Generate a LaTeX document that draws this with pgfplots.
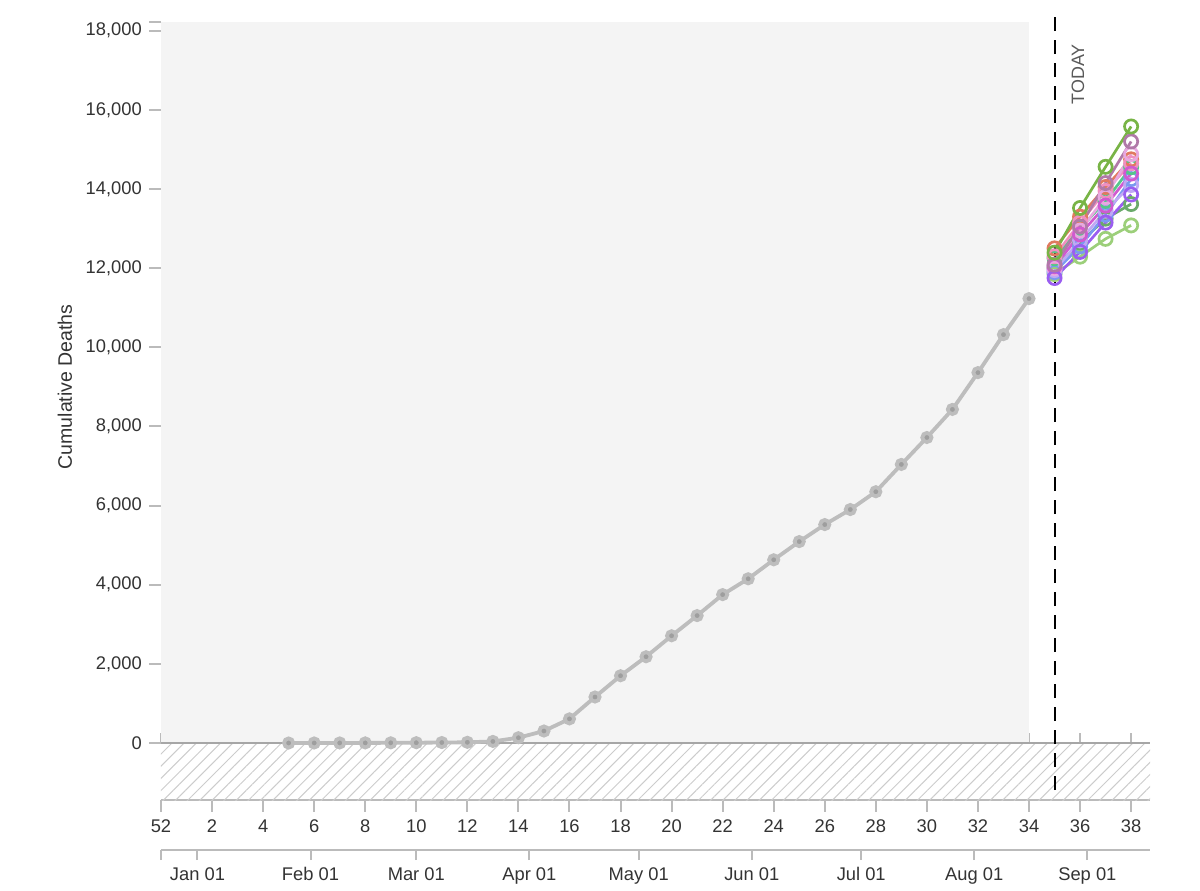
\documentclass[border=0pt]{standalone}
\usepackage{pgfplots}
\pgfplotsset{compat=1.18}
\usepackage{fontspec}
\setmainfont{Liberation Sans}
\usetikzlibrary{patterns.meta}
\definecolor{txt}{HTML}{333333}
\definecolor{tickc}{HTML}{BBBBBB}
\definecolor{shadec}{HTML}{F4F4F4}
\definecolor{histc}{HTML}{BDBDBD}
\definecolor{histmc}{HTML}{9E9E9E}
\definecolor{fA}{HTML}{78B446}
\definecolor{fB}{HTML}{B07AA8}
\definecolor{fC}{HTML}{E8A8E0}
\definecolor{fD}{HTML}{E07A5F}
\definecolor{fE}{HTML}{55C58A}
\definecolor{fF}{HTML}{D05AD0}
\definecolor{fG}{HTML}{C0A8F5}
\definecolor{fH}{HTML}{9A5EF0}
\definecolor{fI}{HTML}{6AAA6A}
\definecolor{fJ}{HTML}{9CCF7A}
\definecolor{fK}{HTML}{7A9AF0}
\definecolor{fL}{HTML}{F090C0}
\pgfplotsset{
  fc/.style={line width=1.35bp, mark=o, mark size=3.3bp, mark options={fill=white, line width=1.35bp}},
}
\begin{document}
\begin{tikzpicture}
\begin{axis}[
  at={(0,0)}, anchor=south west,
  scale only axis, width=494.5bp, height=389bp,
  xmin=0, xmax=38.74, ymin=-1440, ymax=18220,
  clip=false,
  axis x line*=bottom, axis y line*=left,
  x axis line style={draw=tickc, line width=1bp},
  y axis line style={draw=none},
  tick align=outside,
  major tick length=5.8bp,
  every tick/.style={draw=tickc, line width=1bp},
  xtick={0,2,...,38},
  xticklabels={52,2,4,6,8,10,12,14,16,18,20,22,24,26,28,30,32,34,36,38},
  ytick={0,2000,...,18000},
  scaled y ticks=false,
  /pgf/number format/.cd, 1000 sep={,}, assume math mode=true,
  /pgfplots/.cd,
  ticklabel style={font=\fontsize{9.2}{11}\selectfont, text=txt},
  yticklabel style={xshift=-0.3bp},
  xticklabel style={yshift=-0.5bp, text height=6.6bp, text depth=1.9bp},
]
% upward ticks at zero line
\foreach \w in {0,2,...,38}{\edef\tmp{\noexpand\draw[tickc, line width=1bp] (axis cs:\w,0) -- ++(0bp,5bp);}\tmp}
% shaded past region
\fill[shadec] (axis cs:0,0) rectangle (axis cs:34,18220);
% hatched negative region
\fill[pattern={Lines[angle=45,distance=4.3bp,line width=0.5bp]}, pattern color=black!20] (axis cs:0,-1440) rectangle (axis cs:38.74,0);
\draw[black!35, line width=1bp] (axis cs:0,0) -- (axis cs:38.74,0);
\draw[tickc, line width=1bp] (axis cs:0,18220) -- ++(-5.8bp,0bp);
% historical
\addplot[histc, line width=1.9bp, mark=*, mark size=2.3bp, mark options={draw=none, fill=histmc}] coordinates {
(5,0)(6,1)(7,2)(8,3)(9,5)(10,8)(11,12)(12,18)(13,40)(14,134)(15,303)(16,610)(17,1163)(18,1700)(19,2180)(20,2710)(21,3220)(22,3750)(23,4150)(24,4630)(25,5090)(26,5520)(27,5900)(28,6350)(29,7040)(30,7720)(31,8430)(32,9360)(33,10320)(34,11230)};
% forecasts
\addplot[fc, fJ] coordinates {(35,11850)(36,12290)(37,12740)(38,13080)};
\addplot[fc, fI] coordinates {(35,12000)(36,12650)(37,13250)(38,13620)};
\addplot[fc, fK] coordinates {(35,11900)(36,12550)(37,13350)(38,14250)};
\addplot[fc, fG] coordinates {(35,11950)(36,12700)(37,13450)(38,14100)};
\addplot[fc, fE] coordinates {(35,12250)(36,13000)(37,13700)(38,14550)};
\addplot[fc, fD] coordinates {(35,12500)(36,13300)(37,14050)(38,14750)};
\addplot[fc, fL] coordinates {(35,12300)(36,13150)(37,13950)(38,14650)};
\addplot[fc, fC] coordinates {(35,12000)(36,12950)(37,13800)(38,14880)};
\addplot[fc, fF] coordinates {(35,12050)(36,12850)(37,13580)(38,14390)};
\addplot[fc, fH] coordinates {(35,11750)(36,12410)(37,13150)(38,13860)};
\addplot[fc, fB] coordinates {(35,12090)(36,13050)(37,14150)(38,15200)};
\addplot[fc, fA] coordinates {(35,12390)(36,13520)(37,14560)(38,15580)};
% today
\draw[black, line width=1bp, dash pattern=on 7bp off 4.5bp] (axis cs:35,-1190) -- (axis cs:35,18450);
\node[rotate=90, text=black!65, font=\fontsize{9}{11}\selectfont] at (axis cs:35.92,16900) {TODAY};
\node[rotate=90, text=txt, font=\fontsize{9.8}{12}\selectfont] at ([xshift=-48bp]axis cs:0,9000) {Cumulative Deaths};
\end{axis}
\begin{axis}[
  at={(0,-25bp)}, anchor=south west,
  scale only axis, width=494.5bp, height=1bp,
  xmin=0, xmax=38.74, ymin=0, ymax=1,
  axis x line*=bottom, axis y line=none,
  x axis line style={draw=tickc, line width=1bp},
  tick align=outside,
  major tick length=5bp,
  every tick/.style={draw=tickc, line width=1bp},
  xtick={0,1.4286,5.857,10,14.4286,18.714,23.143,27.4286,31.857,36.286},
  xticklabels={,Jan 01,Feb 01,Mar 01,Apr 01,May 01,Jun 01,Jul 01,Aug 01,Sep 01},
  ticklabel style={font=\fontsize{9.2}{11}\selectfont, text=txt, text height=6.6bp, text depth=1.9bp},
]
\addplot[draw=none] coordinates {(0,0)(1,1)};
\end{axis}
\path[use as bounding box] (-80.5bp,-44bp) rectangle (519.5bp,400bp);
\end{tikzpicture}
\end{document}
